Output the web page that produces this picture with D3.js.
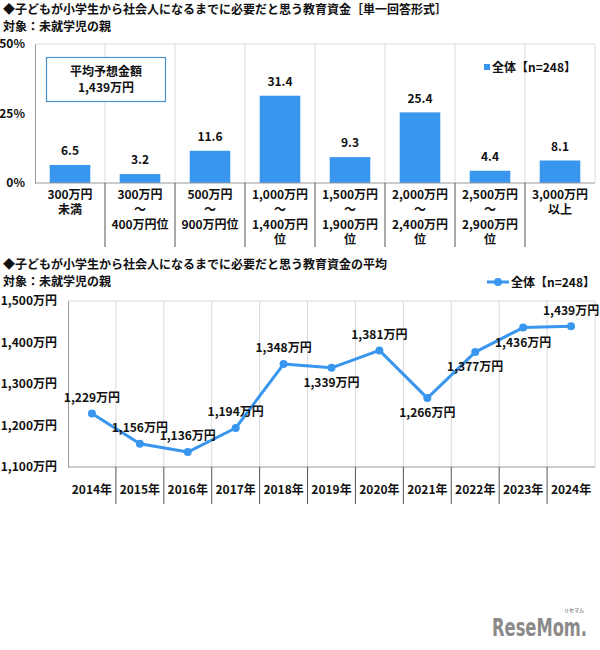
<!DOCTYPE html>
<html>
<head>
<meta charset="utf-8">
<script src="https://cdn.jsdelivr.net/npm/d3@7"></script>
<style>
  body { margin: 0; background: #fff; }
  text { font-family: "Noto Sans CJK JP", "Noto Sans", sans-serif; font-weight: bold; fill: #111; }
</style>
</head>
<body>
<div id="chart"></div>
<script>
// top chart data
const budgetCats = [
  ["300万円", "未満"],
  ["300万円", "～", "400万円位"],
  ["500万円", "～", "900万円位"],
  ["1,000万円", "～", "1,400万円", "位"],
  ["1,500万円", "～", "1,900万円", "位"],
  ["2,000万円", "～", "2,400万円", "位"],
  ["2,500万円", "～", "2,900万円", "位"],
  ["3,000万円", "以上"]
];
const budgetShare = [6.5, 3.2, 11.6, 31.4, 9.3, 25.4, 4.4, 8.1];
const shareTicks = [0, 25, 50];

// bottom chart data
const years = ["2014年", "2015年", "2016年", "2017年", "2018年", "2019年", "2020年", "2021年", "2022年", "2023年", "2024年"];
const avgBudget = [1229, 1156, 1136, 1194, 1348, 1339, 1381, 1266, 1377, 1436, 1439];
const budgetTicks = [1100, 1200, 1300, 1400, 1500];

const blue = "#3996ee";
const grid = "#d9d9d9";
const fmt = d3.format(",");

const svg = d3.select("#chart").append("svg")
  .attr("width", 600).attr("height", 650);

// titles
svg.append("text").attr("x", 3).attr("y", 14).style("font-size", "12px")
  .text("◆子どもが小学生から社会人になるまでに必要だと思う教育資金［単一回答形式］");
svg.append("text").attr("x", 3).attr("y", 31).style("font-size", "12px")
  .text("対象：未就学児の親");

// ---- bar chart ----
const x1 = d3.scaleBand().domain(d3.range(budgetCats.length)).range([35, 595]).paddingInner(0.42).paddingOuter(0.21);
const y1 = d3.scaleLinear().domain([0, 50]).range([183, 44]);
const step1 = x1.step();
const left1 = 35;

const g1 = svg.append("g");
// vertical gridlines
g1.selectAll(".vg").data(d3.range(1, budgetCats.length)).join("line")
  .attr("x1", i => left1 + i * step1).attr("x2", i => left1 + i * step1)
  .attr("y1", 44).attr("y2", 183).attr("stroke", grid);
g1.append("line").attr("x1", left1).attr("x2", 595).attr("y1", 44).attr("y2", 44).attr("stroke", grid);
g1.append("line").attr("x1", 595).attr("x2", 595).attr("y1", 44).attr("y2", 183).attr("stroke", grid);

g1.selectAll("rect").data(budgetShare).join("rect")
  .attr("x", (d, i) => x1(i)).attr("width", x1.bandwidth())
  .attr("y", d => y1(d)).attr("height", d => y1(0) - y1(d))
  .attr("fill", blue);

g1.selectAll(".val").data(budgetShare).join("text")
  .attr("x", (d, i) => x1(i) + x1.bandwidth() / 2).attr("y", d => y1(d) - 13)
  .attr("text-anchor", "middle").attr("dominant-baseline", "middle")
  .style("font-size", "12px").text(d => d.toFixed(1));

// axes
const ay1 = d3.axisLeft(y1).tickValues(shareTicks).tickSize(0).tickFormat(d => d + "%");
g1.append("g").attr("transform", `translate(${left1},0)`).call(ay1)
  .call(g => g.select(".domain").attr("stroke", "#999"))
  .call(g => g.selectAll("text").attr("x", -10).style("font-size", "12px").style("font-family", null));
g1.append("line").attr("x1", left1).attr("x2", 595).attr("y1", 183).attr("y2", 183).attr("stroke", "#999");

// category label separators
g1.selectAll(".sep").data(d3.range(1, budgetCats.length)).join("line")
  .attr("x1", i => left1 + i * step1).attr("x2", i => left1 + i * step1)
  .attr("y1", 183).attr("y2", 247).attr("stroke", "#555");

budgetCats.forEach((lines, i) => {
  const t = g1.append("text").attr("text-anchor", "middle").style("font-size", "12px");
  lines.forEach((s, k) => {
    t.append("tspan").attr("x", left1 + (i + 0.5) * step1).attr("y", 199 + k * 15).text(s);
  });
});

// average box
g1.append("rect").attr("x", 46.5).attr("y", 57.5).attr("width", 119).attr("height", 44)
  .attr("fill", "#fff").attr("stroke", "#4a94cc").attr("stroke-width", 1.2);
g1.append("text").attr("x", 106).attr("y", 76).attr("text-anchor", "middle").style("font-size", "12px").text("平均予想金額");
g1.append("text").attr("x", 106).attr("y", 92).attr("text-anchor", "middle").style("font-size", "12px").text(fmt(avgBudget[avgBudget.length - 1]) + "万円");

// legend
g1.append("rect").attr("x", 484).attr("y", 64).attr("width", 6).attr("height", 6).attr("fill", blue);
g1.append("text").attr("x", 492).attr("y", 71.5).style("font-size", "12px").text("全体【n=248】");

// ---- line chart ----
svg.append("text").attr("x", 3).attr("y", 269).style("font-size", "12px")
  .text("◆子どもが小学生から社会人になるまでに必要だと思う教育資金の平均");
svg.append("text").attr("x", 3).attr("y", 286).style("font-size", "12px")
  .text("対象：未就学児の親");

const left2 = 68;
const x2 = d3.scalePoint().domain(years).range([left2, 595]).padding(0.5);
const y2 = d3.scaleLinear().domain([1100, 1500]).range([467, 301]);
const step2 = x2.step();

const g2 = svg.append("g");
g2.selectAll(".vg").data(d3.range(1, years.length)).join("line")
  .attr("x1", i => left2 + i * step2).attr("x2", i => left2 + i * step2)
  .attr("y1", 301).attr("y2", 467).attr("stroke", grid);
g2.append("line").attr("x1", left2).attr("x2", 595).attr("y1", 301).attr("y2", 301).attr("stroke", grid);
g2.append("line").attr("x1", 595).attr("x2", 595).attr("y1", 301).attr("y2", 467).attr("stroke", grid);

const ay2 = d3.axisLeft(y2).tickValues(budgetTicks).tickSize(0).tickFormat(d => fmt(d) + "万円");
g2.append("g").attr("transform", `translate(${left2},0)`).call(ay2)
  .call(g => g.select(".domain").attr("stroke", "#999"))
  .call(g => g.selectAll("text").attr("x", -11).style("font-size", "12px").style("font-family", null));
g2.append("line").attr("x1", left2).attr("x2", 595).attr("y1", 467).attr("y2", 467).attr("stroke", "#999");

g2.selectAll(".sep").data(d3.range(1, years.length)).join("line")
  .attr("x1", i => left2 + i * step2).attr("x2", i => left2 + i * step2)
  .attr("y1", 467).attr("y2", 504).attr("stroke", "#555");
g2.selectAll(".yr").data(years).join("text")
  .attr("x", d => x2(d)).attr("y", 494).attr("text-anchor", "middle")
  .style("font-size", "12px").text(d => d);

const line = d3.line().x((d, i) => x2(years[i])).y(d => y2(d));
g2.append("path").datum(avgBudget).attr("d", line)
  .attr("fill", "none").attr("stroke", blue).attr("stroke-width", 3).attr("stroke-linejoin", "round");
g2.selectAll("circle").data(avgBudget).join("circle")
  .attr("cx", (d, i) => x2(years[i])).attr("cy", d => y2(d)).attr("r", 4).attr("fill", blue);

const below = new Set([5, 7, 8, 9]);
g2.selectAll(".lbl").data(avgBudget).join("text")
  .attr("x", (d, i) => x2(years[i])).attr("y", (d, i) => y2(d) + (below.has(i) ? 16 : -15))
  .attr("text-anchor", "middle").attr("dominant-baseline", "middle")
  .style("font-size", "12px").text(d => fmt(d) + "万円");

// legend
g2.append("line").attr("x1", 487).attr("x2", 509).attr("y1", 282).attr("y2", 282).attr("stroke", blue).attr("stroke-width", 3);
g2.append("circle").attr("cx", 498).attr("cy", 282).attr("r", 4).attr("fill", blue);
g2.append("text").attr("x", 511).attr("y", 286.5).style("font-size", "12px").text("全体【n=248】");

// logo
svg.append("text").attr("transform", "translate(492,636) scale(0.68,1)")
  .style("font-family", "'DejaVu Sans', sans-serif").style("font-size", "24px").style("fill", "#8a8a8a")
  .text("ReseMom.");
svg.append("text").attr("x", 574).attr("y", 612).attr("text-anchor", "middle")
  .style("font-size", "5px").style("fill", "#8a8a8a").text("リセマム");
</script>
</body>
</html>
